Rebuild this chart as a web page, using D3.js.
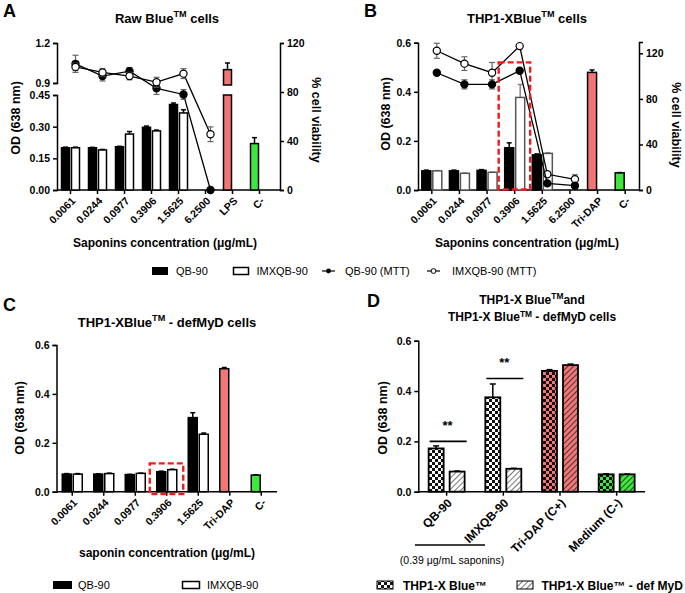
<!DOCTYPE html>
<html><head><meta charset="utf-8">
<script src="https://cdn.jsdelivr.net/npm/d3@7"></script>
<style>
body{margin:0;background:#fff;}
svg{font-family:"Liberation Sans",Arial,sans-serif;}
</style></head><body>
<svg id="c" width="685" height="593"></svg>
<script>
// ---------- DATA ----------
const concAB = ["0.0061","0.0244","0.0977","0.3906","1.5625","6.2500"];
const ctrlA = ["LPS","C-"];
const ctrlB = ["Tri-DAP","C-"];
const concC = ["0.0061","0.0244","0.0977","0.3906","1.5625"];
const ctrlC = ["Tri-DAP","C-"];

const qbA = [0.200,0.200,0.205,0.297,0.405,0];
const qbAErr = [0.003,0.002,0.002,0.006,0.007,0];
const imxA = [0.200,0.190,0.265,0.280,0.365,0];
const imxAErr = [0.003,0.002,0.012,0.004,0.015,0];
const ctrlAVal = [1.00,0.22];
const ctrlAErr = [0.05,0.028];
const qbMttA = [103,93,97,83,78,0];
const qbMttAErr = [7,4,3,5,4,0];
const imxMttA = [100.5,96,93,88,95,45.5];
const imxMttAErr = [3,3,3,4,4,6];

const qbB = [0.078,0.078,0.080,0.172,0.143,0];
const qbBErr = [0.003,0.003,0.003,0.020,0.004,0];
const imxB = [0.078,0.068,0.072,0.377,0.149,0];
const imxBErr = [0.001,0.001,0.001,0.053,0.003,0];
const ctrlBVal = [0.479,0.070];
const ctrlBErr = [0.010,0.001];
const qbMttB = [103,92.8,92.8,104.8,5.8,3.8];
const qbMttBErr = [0,4,4,0,0,0];
const imxMttB = [122.3,111,103,126.4,13.8,9.4];
const imxMttBErr = [6.6,6,9,0,0,4];

const qbC = [0.072,0.072,0.070,0.082,0.303];
const qbCErr = [0.002,0.001,0.001,0.002,0.020];
const imxC = [0.072,0.074,0.075,0.090,0.235];
const imxCErr = [0.002,0.002,0.001,0.002,0.005];
const ctrlCVal = [0.503,0.068];
const ctrlCErr = [0.005,0.001];

const groupsD = ["QB-90","IMXQB-90","Tri-DAP (C+)","Medium (C-)"];
const thp1D = [0.172,0.375,0.480,0.069];
const thp1DErr = [0.010,0.053,0.005,0.002];
const defD = [0.080,0.091,0.503,0.069];
const defDErr = [0.002,0.002,0.004,0.001];

const RED = "#f37676", GREEN = "#3ee63e";

// ---------- HELPERS ----------
const svg = d3.select("#c");
const defs = svg.append("defs");
function checker(id, bg){
  const p = defs.append("pattern").attr("id",id).attr("width",6).attr("height",6).attr("patternUnits","userSpaceOnUse");
  p.append("rect").attr("width",6).attr("height",6).attr("fill",bg);
  p.append("rect").attr("width",3).attr("height",3).attr("fill","#111");
  p.append("rect").attr("x",3).attr("y",3).attr("width",3).attr("height",3).attr("fill","#111");
}
function hatch(id, bg, col){
  const p = defs.append("pattern").attr("id",id).attr("width",4).attr("height",4).attr("patternUnits","userSpaceOnUse").attr("patternTransform","rotate(45)");
  p.append("rect").attr("width",4).attr("height",4).attr("fill",bg);
  p.append("line").attr("x1",0).attr("y1",0).attr("x2",0).attr("y2",4).attr("stroke",col).attr("stroke-width",1.6);
}
checker("chkW","#fff"); checker("chkR",RED); checker("chkG",GREEN);
hatch("hatW","#fff","#555"); hatch("hatR",RED,"#222"); hatch("hatG",GREEN,"#222");

function txt(x,y,s,size,bold,anchor){
  return svg.append("text").attr("x",x).attr("y",y).attr("font-size",size)
    .attr("font-weight",bold?"bold":"normal").attr("text-anchor",anchor||"middle").text(s);
}
function titleTM(x,y,pre,post,size,sup){
  const s = sup||6;
  const t = svg.append("text").attr("x",x).attr("y",y).attr("font-size",size).attr("font-weight","bold").attr("text-anchor","middle");
  t.append("tspan").text(pre);
  t.append("tspan").attr("dy",-s).attr("font-size",size*0.7).text("TM");
  t.append("tspan").attr("dy",s).text(post);
  return t;
}
function vlabel(x,y,s,rot){
  svg.append("text").attr("transform",`translate(${x},${y}) rotate(${rot})`).attr("text-anchor","middle")
    .attr("font-size",12.5).attr("font-weight","bold").text(s);
}
function styleAxis(g){
  g.selectAll("path,line").attr("stroke","#000").attr("stroke-width",1.5);
  g.selectAll("text").attr("font-weight","bold").attr("font-size",10.5).attr("fill","#000").attr("font-family","Liberation Sans, Arial, sans-serif");
}
function xAxis(x, y0, rightEnd, cats, fs){
  svg.append("line").attr("x1",x.range()[0]).attr("x2",rightEnd).attr("y1",y0).attr("y2",y0).attr("stroke","#000").attr("stroke-width",1.5);
  const g = svg.append("g").attr("transform",`translate(0,${y0})`);
  cats.forEach(c=>{
    const cx = x(c)+x.bandwidth()/2;
    g.append("line").attr("x1",cx).attr("x2",cx).attr("y1",0).attr("y2",4).attr("stroke","#000").attr("stroke-width",1.5);
    g.append("text").attr("transform",`translate(${cx+3},${9}) rotate(-45)`).attr("text-anchor","end")
      .attr("dy","0.35em").attr("font-size",fs||10.5).attr("font-weight","bold").text(c);
  });
}
function errUp(x,w,yTop,yErr,col){
  svg.append("line").attr("x1",x).attr("x2",x).attr("y1",yTop).attr("y2",yErr).attr("stroke",col||"#000").attr("stroke-width",1.5);
  svg.append("line").attr("x1",x-w/2).attr("x2",x+w/2).attr("y1",yErr).attr("y2",yErr).attr("stroke",col||"#000").attr("stroke-width",1.5);
}
function bar(x0,w,yTop,yBot,fill,stroke,sw){
  svg.append("rect").attr("x",x0).attr("y",yTop).attr("width",w).attr("height",Math.max(0,yBot-yTop))
    .attr("fill",fill).attr("stroke",stroke).attr("stroke-width",sw||1.5);
}
function mttLine(pts, y, filled){
  svg.append("path").attr("d",d3.line().x(d=>d[0]).y(d=>y(d[1]))(pts)).attr("fill","none").attr("stroke","#000").attr("stroke-width",1.3);
  pts.forEach(d=>{
    if(d[2]>0){
      const c="#666";
      svg.append("line").attr("x1",d[0]).attr("x2",d[0]).attr("y1",y(d[1]-d[2])).attr("y2",y(d[1]+d[2])).attr("stroke",c).attr("stroke-width",1.2);
      [d[1]-d[2],d[1]+d[2]].forEach(v=>svg.append("line").attr("x1",d[0]-3).attr("x2",d[0]+3).attr("y1",y(v)).attr("y2",y(v)).attr("stroke",c).attr("stroke-width",1.2));
    }
  });
  pts.forEach(d=>{
    svg.append("circle").attr("cx",d[0]).attr("cy",y(d[1])).attr("r",3.6).attr("fill",filled?"#000":"#fff").attr("stroke","#000").attr("stroke-width",1.2);
  });
}

// ---------- PANEL A ----------
txt(3,17,"A",18,true,"start");
titleTM(167,23,"Raw Blue"," cells",13);
{
  const catsA = concAB.concat(ctrlA);
  const x = d3.scaleBand().domain(catsA).range([57,273]);
  const yLo = d3.scaleLinear().domain([0,0.45]).range([190,95]);
  const yHi = d3.scaleLinear().domain([0.9,1.2]).range([83,43]);
  const yR = d3.scaleLinear().domain([0,120]).range([190,43]);
  const yOD = v => v<=0.45 ? yLo(v) : yHi(v);
  styleAxis(svg.append("g").attr("transform","translate(57,0)").call(d3.axisLeft(yLo).tickValues([0,0.15,0.30,0.45]).tickFormat(d3.format(".2f")).tickSizeOuter(0).tickSize(4)));
  styleAxis(svg.append("g").attr("transform","translate(57,0)").call(d3.axisLeft(yHi).tickValues([0.9,1.2]).tickFormat(d3.format(".1f")).tickSizeOuter(0).tickSize(4)));
  styleAxis(svg.append("g").attr("transform","translate(280,0)").call(d3.axisRight(yR).tickValues([0,40,80,120]).tickSizeOuter(0).tickSize(4)));
  xAxis(x,190,280,catsA);
  const bw = 8, gap = 2;
  concAB.forEach((c,i)=>{
    const cx = x(c)+x.bandwidth()/2;
    if(qbA[i]>0){ bar(cx-gap/2-bw,bw,yOD(qbA[i]),190,"#000","#000"); errUp(cx-gap/2-bw/2,5,yOD(qbA[i]),yOD(qbA[i]+qbAErr[i])); }
    if(imxA[i]>0){ bar(cx+gap/2,bw,yOD(imxA[i]),190,"#fff","#000"); errUp(cx+gap/2+bw/2,5,yOD(imxA[i]),yOD(imxA[i]+imxAErr[i])); }
  });
  const ctrlCol=[RED,GREEN];
  ctrlA.forEach((c,i)=>{
    const cx = x(c)+x.bandwidth()/2 - gap/2 - bw/2;
    const v = ctrlAVal[i];
    if(v>0.45){
      bar(cx-bw/2,bw,yLo(0.45),190,ctrlCol[i],"#000");
      bar(cx-bw/2,bw,yHi(v),yHi(0.9)+2,ctrlCol[i],"#000");
    } else bar(cx-bw/2,bw,yLo(v),190,ctrlCol[i],"#000");
    errUp(cx,5,yOD(v),yOD(v+ctrlAErr[i]));
  });
  const px = i => x(concAB[i])+x.bandwidth()/2+5;
  mttLine(qbMttA.map((v,i)=>[px(i),v,qbMttAErr[i]]), yR, true);
  mttLine(imxMttA.map((v,i)=>[px(i),v,imxMttAErr[i]]), yR, false);
  vlabel(20,118,"OD (638 nm)",-90);
  vlabel(312,120,"% cell viability",90);
  txt(165,247,"Saponins concentration (\u03bcg/mL)",12,true);
}

// ---------- PANEL B ----------
txt(364,17,"B",18,true,"start");
titleTM(527,23,"THP1-XBlue"," cells",13);
{
  const catsB = concAB.concat(ctrlB);
  const x = d3.scaleBand().domain(catsB).range([418,639]);
  const y = d3.scaleLinear().domain([0,0.6]).range([190,42.7]);
  const yR = d3.scaleLinear().domain([0,130]).range([190,42]);
  styleAxis(svg.append("g").attr("transform","translate(418,0)").call(d3.axisLeft(y).tickValues([0,0.2,0.4,0.6]).tickFormat(d3.format(".1f")).tickSizeOuter(0).tickSize(4)));
  styleAxis(svg.append("g").attr("transform","translate(639,0)").call(d3.axisRight(yR).tickValues([0,40,80,120]).tickSizeOuter(0).tickSize(4)));
  xAxis(x,190,639,catsB);
  const bw=9,gap=2;
  concAB.forEach((c,i)=>{
    const cx = x(c)+x.bandwidth()/2;
    if(qbB[i]>0){ bar(cx-gap/2-bw,bw,y(qbB[i]),190,"#000","#000"); errUp(cx-gap/2-bw/2,5,y(qbB[i]),y(qbB[i]+qbBErr[i])); }
    if(imxB[i]>0){ errUp(cx+gap/2+bw/2,5,y(imxB[i]),y(imxB[i]+imxBErr[i]),"#888"); bar(cx+gap/2,bw,y(imxB[i]),190,"#fff","#555"); }
  });
  const ctrlCol=[RED,GREEN];
  ctrlB.forEach((c,i)=>{
    const cx = x(c)+x.bandwidth()/2 - gap/2 - bw/2;
    bar(cx-bw/2,bw,y(ctrlBVal[i]),190,ctrlCol[i],"#000");
    errUp(cx,5,y(ctrlBVal[i]),y(ctrlBVal[i]+ctrlBErr[i]));
  });
  const px = i => x(concAB[i])+x.bandwidth()/2+5;
  mttLine(imxMttB.map((v,i)=>[px(i),v,imxMttBErr[i]]), yR, false);
  mttLine(qbMttB.map((v,i)=>[px(i),v,qbMttBErr[i]]), yR, true);
  const c4 = x("0.3906")+x.bandwidth()/2;
  svg.append("rect").attr("x",c4-16).attr("y",y(0.52)).attr("width",31.5).attr("height",190-y(0.52)-0.5)
    .attr("fill","none").attr("stroke","#ee1c1c").attr("stroke-width",2.4).attr("stroke-dasharray","6,3");
  vlabel(390,114,"OD (638 nm)",-90);
  vlabel(672,125,"% cell viability",90);
  txt(527,247,"Saponins concentration (\u03bcg/mL)",12,true);
}

// ---------- LEGEND ROW (A/B) ----------
{
  const ly = 271;
  svg.append("rect").attr("x",152).attr("y",ly-4).attr("width",16).attr("height",8).attr("fill","#000");
  txt(176,ly+4,"QB-90",11,false,"start");
  svg.append("rect").attr("x",233.5).attr("y",ly-3.5).attr("width",15).attr("height",7).attr("fill","#fff").attr("stroke","#000").attr("stroke-width",1.5);
  txt(256.5,ly+4,"IMXQB-90",11,false,"start");
  svg.append("line").attr("x1",322).attr("x2",335).attr("y1",ly).attr("y2",ly).attr("stroke","#000").attr("stroke-width",1.2);
  svg.append("circle").attr("cx",328.5).attr("cy",ly).attr("r",2.4).attr("fill","#000");
  txt(345,ly+4,"QB-90 (MTT)",11,false,"start");
  svg.append("line").attr("x1",427).attr("x2",440).attr("y1",ly).attr("y2",ly).attr("stroke","#000").attr("stroke-width",1.2);
  svg.append("circle").attr("cx",433.5).attr("cy",ly).attr("r",2.4).attr("fill","#fff").attr("stroke","#000").attr("stroke-width",1);
  txt(452,ly+4,"IMXQB-90 (MTT)",11,false,"start");
}

// ---------- PANEL C ----------
txt(3,311,"C",18,true,"start");
titleTM(167,327,"THP1-XBlue"," - defMyD cells",13);
{
  const catsC = concC.concat(ctrlC);
  const x = d3.scaleBand().domain(catsC).range([56.5,277]);
  const y = d3.scaleLinear().domain([0,0.6]).range([491.7,345]);
  styleAxis(svg.append("g").attr("transform","translate(56.5,0)").call(d3.axisLeft(y).tickValues([0,0.2,0.4,0.6]).tickFormat(d3.format(".1f")).tickSizeOuter(0).tickSize(4)));
  xAxis(x,491.7,277,catsC);
  const bw=9,gap=2;
  concC.forEach((c,i)=>{
    const cx = x(c)+x.bandwidth()/2;
    bar(cx-gap/2-bw,bw,y(qbC[i]),491.7,"#000","#000"); errUp(cx-gap/2-bw/2,5,y(qbC[i]),y(qbC[i]+qbCErr[i]));
    bar(cx+gap/2,bw,y(imxC[i]),491.7,"#fff","#000"); errUp(cx+gap/2+bw/2,5,y(imxC[i]),y(imxC[i]+imxCErr[i]));
  });
  const ctrlCol=[RED,GREEN];
  ctrlC.forEach((c,i)=>{
    const cx = x(c)+x.bandwidth()/2 - gap/2 - bw/2;
    bar(cx-bw/2,bw,y(ctrlCVal[i]),491.7,ctrlCol[i],"#000");
    errUp(cx,5,y(ctrlCVal[i]),y(ctrlCVal[i]+ctrlCErr[i]));
  });
  const c4 = x("0.3906")+x.bandwidth()/2;
  svg.append("rect").attr("x",c4-17).attr("y",y(0.116)).attr("width",33.5).attr("height",494-y(0.116))
    .attr("fill","none").attr("stroke","#ee1c1c").attr("stroke-width",2.4).attr("stroke-dasharray","6,3");
  vlabel(24,418,"OD (638 nm)",-90);
  txt(167,557,"saponin concentration (\u03bcg/mL)",12,true);
  const ly=585;
  svg.append("rect").attr("x",53).attr("y",ly-4).attr("width",19).attr("height",8).attr("fill","#000");
  txt(78,ly+4,"QB-90",11,false,"start");
  svg.append("rect").attr("x",182.5).attr("y",ly-3.5).attr("width",17).attr("height",7).attr("fill","#fff").attr("stroke","#000").attr("stroke-width",1.5);
  txt(207,ly+4,"IMXQB-90",11,false,"start");
}

// ---------- PANEL D ----------
txt(367,307,"D",18,true,"start");
titleTM(532,304,"THP1-X Blue","and",12,5);
titleTM(532,321,"THP1-X Blue"," - defMyD cells",12,4);
{
  const x = d3.scaleBand().domain(groupsD).range([418.3,645]);
  const y = d3.scaleLinear().domain([0,0.6]).range([491.7,340.7]);
  styleAxis(svg.append("g").attr("transform","translate(418.3,0)").call(d3.axisLeft(y).tickValues([0,0.2,0.4,0.6]).tickFormat(d3.format(".1f")).tickSizeOuter(0).tickSize(4)));
  xAxis(x,491.7,645,groupsD,12);
  const bw=15,gap=6;
  const chk=["url(#chkW)","url(#chkW)","url(#chkR)","url(#chkG)"];
  const hat=["url(#hatW)","url(#hatW)","url(#hatR)","url(#hatG)"];
  groupsD.forEach((g,i)=>{
    const cx = x(g)+x.bandwidth()/2;
    errUp(cx-gap/2-bw/2,6,y(thp1D[i]),y(thp1D[i]+thp1DErr[i]));
    bar(cx-gap/2-bw,bw,y(thp1D[i]),491.7,chk[i],"#000",1.8);
    errUp(cx+gap/2+bw/2,6,y(defD[i]),y(defD[i]+defDErr[i]));
    bar(cx+gap/2,bw,y(defD[i]),491.7,hat[i],"#000",1.8);
  });
  [[0,0.20],[1,0.45]].forEach(([i,v])=>{
    const cx = x(groupsD[i])+x.bandwidth()/2;
    svg.append("line").attr("x1",cx-17).attr("x2",cx+20).attr("y1",y(v)).attr("y2",y(v)).attr("stroke","#000").attr("stroke-width",1.6);
    txt(cx+1,y(v)-11,"**",13,true);
  });
  svg.append("line").attr("x1",415).attr("x2",485).attr("y1",545).attr("y2",545).attr("stroke","#000").attr("stroke-width",1.5);
  txt(452,564,"(0.39 \u03bcg/mL saponins)",10.5,false);
  vlabel(387,418,"OD (638 nm)",-90);
  const ly=585;
  svg.append("rect").attr("x",377).attr("y",ly-4).attr("width",16).attr("height",8).attr("fill","url(#chkW)").attr("stroke","#000").attr("stroke-width",1);
  txt(403,ly+4.5,"THP1-X Blue\u2122",12,true,"start");
  svg.append("rect").attr("x",517).attr("y",ly-4).attr("width",16).attr("height",8).attr("fill","url(#hatW)").attr("stroke","#000").attr("stroke-width",1);
  txt(541.5,ly+4.5,"THP1-X Blue\u2122 - def MyD",12,true,"start");
}
</script></body></html>
